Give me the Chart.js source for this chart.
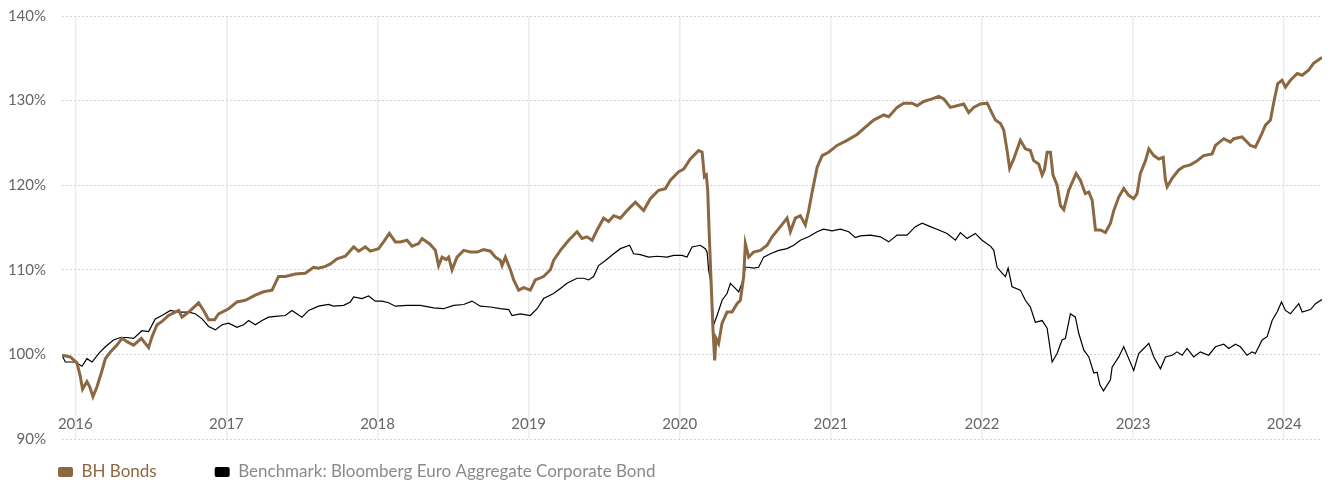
<!DOCTYPE html>
<html>
<head>
<meta charset="utf-8">
<script src="https://cdn.jsdelivr.net/npm/chart.js@4.4.1/dist/chart.umd.min.js"></script>
<style>
    html, body { margin: 0; padding: 0; background: #fff; }
    #wrap { width: 1332px; height: 485px; }
</style>
</head>
<body>
<div id="wrap"><canvas id="perfChart"></canvas></div>
<script>
// Decimal years / index values (start = 100)
const bhDates = [
    2015.912, 2015.967, 2016.011, 2016.033, 2016.048, 2016.077, 2016.095, 2016.117, 2016.144, 2016.177,
    2016.199, 2016.232, 2016.276, 2016.309, 2016.342, 2016.386, 2016.437, 2016.463, 2016.485, 2016.508,
    2016.541, 2016.574, 2016.617, 2016.684, 2016.706, 2016.750, 2016.816, 2016.849, 2016.882, 2016.922,
    2016.948, 2017.015, 2017.070, 2017.125, 2017.191, 2017.246, 2017.302, 2017.345, 2017.390, 2017.456,
    2017.522, 2017.577, 2017.610, 2017.655, 2017.688, 2017.732, 2017.787, 2017.842, 2017.875, 2017.919,
    2017.952, 2018.007, 2018.040, 2018.078, 2018.118, 2018.151, 2018.195, 2018.228, 2018.272, 2018.295,
    2018.349, 2018.383, 2018.404, 2018.427, 2018.455, 2018.471, 2018.493, 2018.526, 2018.570, 2018.614,
    2018.659, 2018.702, 2018.747, 2018.780, 2018.813, 2018.824, 2018.846, 2018.879, 2018.901, 2018.934,
    2018.967, 2019.011, 2019.044, 2019.099, 2019.144, 2019.165, 2019.210, 2019.265, 2019.320, 2019.353,
    2019.386, 2019.420, 2019.453, 2019.496, 2019.529, 2019.563, 2019.607, 2019.651, 2019.706, 2019.761,
    2019.805, 2019.860, 2019.905, 2019.938, 2019.993, 2020.026, 2020.070, 2020.103, 2020.125, 2020.148,
    2020.163, 2020.176, 2020.185, 2020.194, 2020.207, 2020.220, 2020.231, 2020.240, 2020.257, 2020.280,
    2020.313, 2020.346, 2020.379, 2020.401, 2020.423, 2020.434, 2020.456, 2020.489, 2020.533, 2020.578,
    2020.611, 2020.666, 2020.710, 2020.732, 2020.765, 2020.798, 2020.831, 2020.853, 2020.876, 2020.909,
    2020.942, 2020.985, 2021.041, 2021.107, 2021.173, 2021.217, 2021.283, 2021.350, 2021.383, 2021.438,
    2021.482, 2021.537, 2021.570, 2021.614, 2021.670, 2021.714, 2021.747, 2021.791, 2021.835, 2021.879,
    2021.912, 2021.945, 2021.989, 2022.034, 2022.067, 2022.089, 2022.122, 2022.144, 2022.166, 2022.183,
    2022.210, 2022.254, 2022.287, 2022.320, 2022.342, 2022.375, 2022.398, 2022.413, 2022.431, 2022.453,
    2022.470, 2022.497, 2022.519, 2022.541, 2022.574, 2022.623, 2022.651, 2022.684, 2022.707, 2022.729,
    2022.751, 2022.784, 2022.817, 2022.850, 2022.872, 2022.905, 2022.938, 2022.971, 2023.004, 2023.026,
    2023.048, 2023.082, 2023.104, 2023.137, 2023.170, 2023.199, 2023.214, 2023.225, 2023.258, 2023.302,
    2023.335, 2023.379, 2023.424, 2023.467, 2023.523, 2023.545, 2023.600, 2023.644, 2023.666, 2023.721,
    2023.754, 2023.776, 2023.809, 2023.842, 2023.876, 2023.909, 2023.931, 2023.957, 2023.986, 2024.008,
    2024.041, 2024.086, 2024.119, 2024.161, 2024.194, 2024.250,
];
const bhValues = [
    99.9, 99.7, 99.0, 97.4, 95.9, 96.8, 96.2, 95.0, 96.2, 98.1,
    99.5, 100.3, 101.1, 101.9, 101.5, 101.1, 101.9, 101.3, 100.8, 102.1,
    103.5, 103.9, 104.6, 105.2, 104.4, 105.0, 106.1, 105.2, 104.1, 104.1,
    104.8, 105.4, 106.2, 106.4, 107.0, 107.4, 107.6, 109.2, 109.2, 109.5,
    109.6, 110.3, 110.2, 110.4, 110.7, 111.3, 111.6, 112.7, 112.2, 112.7,
    112.2, 112.5, 113.3, 114.3, 113.3, 113.3, 113.5, 112.8, 113.1, 113.7,
    113.0, 112.3, 110.5, 111.5, 111.2, 111.5, 110.0, 111.5, 112.3, 112.1,
    112.1, 112.4, 112.2, 111.5, 111.1, 110.5, 111.5, 110.0, 108.8, 107.6,
    107.9, 107.6, 108.8, 109.2, 110.0, 111.1, 112.3, 113.5, 114.5, 113.7,
    113.9, 113.5, 114.7, 116.1, 115.7, 116.4, 116.1, 117.0, 118.0, 117.0,
    118.4, 119.4, 119.6, 120.6, 121.6, 121.9, 123.1, 123.7, 124.1, 123.9,
    121.0, 121.2, 119.4, 114.7, 108.8, 102.9, 99.3, 101.9, 101.3, 103.7,
    105.0, 105.0, 106.0, 106.4, 109.2, 113.1, 111.5, 112.1, 112.3, 112.9,
    113.9, 115.1, 116.1, 114.5, 116.1, 116.4, 115.3, 117.0, 119.2, 122.1,
    123.5, 123.9, 124.7, 125.3, 126.0, 126.7, 127.7, 128.3, 128.1, 129.2,
    129.7, 129.7, 129.4, 129.9, 130.2, 130.5, 130.2, 129.2, 129.4, 129.6,
    128.6, 129.2, 129.6, 129.7, 128.5, 127.7, 127.3, 126.5, 124.1, 122.0,
    123.1, 125.3, 124.3, 124.1, 122.9, 122.5, 121.2, 121.8, 123.9, 123.9,
    121.2, 120.0, 117.6, 117.1, 119.4, 121.4, 120.6, 119.0, 119.2, 118.2,
    114.7, 114.7, 114.4, 115.5, 117.0, 118.6, 119.6, 118.8, 118.4, 119.0,
    121.4, 122.9, 124.3, 123.5, 123.1, 123.3, 120.6, 119.8, 120.8, 121.8,
    122.2, 122.4, 122.9, 123.5, 123.7, 124.7, 125.5, 125.1, 125.5, 125.7,
    125.1, 124.7, 124.5, 125.7, 127.1, 127.7, 129.8, 132.0, 132.4, 131.6,
    132.4, 133.2, 133.0, 133.6, 134.4, 135.1,
];

const benchDates = [
    2015.912, 2015.934, 2015.967, 2016.000, 2016.044, 2016.077, 2016.111, 2016.154, 2016.199, 2016.253,
    2016.298, 2016.342, 2016.386, 2016.441, 2016.485, 2016.529, 2016.574, 2016.629, 2016.684, 2016.750,
    2016.794, 2016.839, 2016.882, 2016.927, 2016.971, 2017.015, 2017.070, 2017.114, 2017.147, 2017.191,
    2017.236, 2017.279, 2017.324, 2017.390, 2017.434, 2017.500, 2017.544, 2017.610, 2017.676, 2017.709,
    2017.776, 2017.820, 2017.842, 2017.897, 2017.941, 2017.985, 2018.030, 2018.073, 2018.118, 2018.195,
    2018.283, 2018.371, 2018.437, 2018.504, 2018.570, 2018.625, 2018.680, 2018.747, 2018.813, 2018.868,
    2018.890, 2018.945, 2019.011, 2019.056, 2019.099, 2019.165, 2019.210, 2019.254, 2019.320, 2019.364,
    2019.397, 2019.430, 2019.463, 2019.508, 2019.563, 2019.607, 2019.668, 2019.695, 2019.739, 2019.794,
    2019.850, 2019.916, 2019.960, 2020.015, 2020.048, 2020.081, 2020.136, 2020.169, 2020.181, 2020.191,
    2020.203, 2020.214, 2020.224, 2020.247, 2020.280, 2020.313, 2020.335, 2020.368, 2020.390, 2020.412,
    2020.434, 2020.456, 2020.489, 2020.522, 2020.555, 2020.600, 2020.655, 2020.710, 2020.754, 2020.798,
    2020.853, 2020.909, 2020.952, 2021.008, 2021.063, 2021.118, 2021.162, 2021.195, 2021.261, 2021.328,
    2021.383, 2021.438, 2021.504, 2021.559, 2021.604, 2021.658, 2021.714, 2021.769, 2021.824, 2021.857,
    2021.901, 2021.956, 2022.000, 2022.056, 2022.078, 2022.100, 2022.133, 2022.155, 2022.173, 2022.199,
    2022.254, 2022.287, 2022.320, 2022.353, 2022.398, 2022.431, 2022.464, 2022.497, 2022.530, 2022.552,
    2022.585, 2022.618, 2022.640, 2022.674, 2022.707, 2022.740, 2022.762, 2022.780, 2022.804, 2022.850,
    2022.861, 2022.905, 2022.938, 2022.971, 2023.004, 2023.037, 2023.071, 2023.104, 2023.137, 2023.181,
    2023.214, 2023.258, 2023.291, 2023.324, 2023.357, 2023.401, 2023.445, 2023.500, 2023.545, 2023.600,
    2023.633, 2023.677, 2023.710, 2023.754, 2023.787, 2023.809, 2023.854, 2023.887, 2023.920, 2023.953,
    2023.982, 2024.008, 2024.041, 2024.096, 2024.119, 2024.174, 2024.207, 2024.250,
];
const benchValues = [
    99.9, 99.1, 99.1, 99.1, 98.6, 99.5, 99.1, 100.1, 100.9, 101.7,
    102.0, 102.0, 101.9, 102.8, 102.7, 104.2, 104.6, 105.2, 105.0, 105.0,
    104.8, 104.2, 103.3, 102.9, 103.5, 103.7, 103.2, 103.5, 104.0, 103.5,
    104.0, 104.4, 104.5, 104.6, 105.2, 104.4, 105.2, 105.7, 105.9, 105.7,
    105.8, 106.2, 106.8, 106.6, 106.9, 106.3, 106.3, 106.1, 105.7, 105.8,
    105.8, 105.5, 105.4, 105.8, 105.9, 106.3, 105.7, 105.6, 105.4, 105.3,
    104.6, 104.8, 104.6, 105.4, 106.6, 107.2, 107.8, 108.4, 109.0, 109.0,
    108.8, 109.2, 110.5, 111.1, 111.9, 112.5, 112.9, 111.9, 111.8, 111.5,
    111.6, 111.5, 111.7, 111.7, 111.5, 112.7, 112.9, 112.5, 112.1, 110.0,
    108.8, 106.0, 103.5, 104.6, 106.4, 107.2, 108.4, 107.8, 107.4, 108.4,
    110.3, 110.3, 110.2, 110.3, 111.5, 111.9, 112.3, 112.5, 112.9, 113.5,
    113.9, 114.5, 114.8, 114.6, 114.8, 114.5, 113.8, 114.0, 114.1, 113.9,
    113.3, 114.1, 114.1, 115.1, 115.5, 115.1, 114.7, 114.3, 113.5, 114.4,
    113.7, 114.3, 113.5, 112.8, 112.3, 110.3, 109.6, 109.2, 110.2, 108.0,
    107.6, 106.4, 105.6, 103.8, 104.0, 103.1, 99.1, 100.1, 101.7, 101.9,
    104.8, 104.4, 102.5, 100.5, 99.7, 97.8, 97.9, 96.4, 95.7, 97.0,
    98.5, 99.7, 100.9, 99.5, 98.1, 100.1, 100.7, 101.3, 99.7, 98.3,
    99.7, 99.9, 100.3, 99.9, 100.7, 99.7, 100.3, 99.9, 100.9, 101.2,
    100.7, 101.2, 100.9, 99.9, 100.3, 100.1, 101.7, 102.1, 104.0, 105.0,
    106.2, 105.2, 104.8, 106.0, 105.0, 105.3, 106.0, 106.5,
];

const yTicks = [90, 100, 110, 120, 130, 140];
const seriesLabels = ['BH Bonds', 'Benchmark: Bloomberg Euro Aggregate Corporate Bond'];

const COLORS = {
    bh:        '#8b6841',
    bench:     '#000000',
    benchText: '#8a8a8a',
    tick:      '#666666',
    gridH:     '#d2d2d2',
    gridV:     '#ececec',
};

const FONT = 'Lato, "Noto Sans", sans-serif';
const LEGEND_ITEM_Y = 463.5;

const toPoints = (dates, values) => dates.map((x, i) => ({ x, y: values[i] }));

// Chart.js uses labels.padding both as item gap and as top offset; lift the legend row back up
const legendLift = {
    id: 'legendLift',
    afterLayout(chart) {
        const legend = chart.legend;
        legend.top = LEGEND_ITEM_Y - legend.options.labels.padding;
        legend.bottom = chart.height;
    },
};

function createPerformanceChart(canvasId) {
    const canvas = document.getElementById(canvasId);
    const textColors = [COLORS.bh, COLORS.benchText];

    return new Chart(canvas.getContext('2d'), {
        type: 'line',
        data: {
            datasets: [
                {
                    label: seriesLabels[0],
                    data: toPoints(bhDates, bhValues),
                    borderColor: COLORS.bh,
                    backgroundColor: COLORS.bh,
                    borderWidth: 3,
                    pointRadius: 0,
                    tension: 0,
                },
                {
                    label: seriesLabels[1],
                    data: toPoints(benchDates, benchValues),
                    borderColor: COLORS.bench,
                    backgroundColor: COLORS.bench,
                    borderWidth: 1.2,
                    pointRadius: 0,
                    tension: 0,
                },
            ],
        },
        options: {
            responsive: true,
            maintainAspectRatio: false,
            animation: false,
            layout: { padding: { top: 0, right: 10, left: 0, bottom: 0 } },
            scales: {
                x: {
                    type: 'linear',
                    min: bhDates[0],
                    max: bhDates[bhDates.length - 1],
                    afterFit: scale => { scale.height = 0; },
                    border: { display: false },
                    grid: { color: COLORS.gridV, lineWidth: 1.5, drawTicks: false },
                    ticks: {
                        stepSize: 1,
                        includeBounds: false,
                        autoSkip: false,
                        maxRotation: 0,
                        mirror: true,
                        padding: 6,
                        color: COLORS.tick,
                        font: { family: FONT, size: 15 },
                        callback: value => String(value),
                    },
                },
                y: {
                    min: yTicks[0],
                    max: yTicks[yTicks.length - 1],
                    afterFit: scale => {
                        scale.width = 62;
                        scale.paddingTop = 16;
                        scale.paddingBottom = 0;
                    },
                    afterBuildTicks: scale => { scale.ticks = yTicks.map(value => ({ value })); },
                    border: { display: false, dash: [2, 2] },
                    grid: { color: COLORS.gridH, lineWidth: 1, drawTicks: false },
                    ticks: {
                        padding: 16,
                        color: COLORS.tick,
                        font: { family: FONT, size: 15 },
                        callback: value => value + '%',
                    },
                },
            },
            plugins: {
                tooltip: { enabled: false },
                legend: {
                    position: 'bottom',
                    align: 'start',
                    maxHeight: 46,
                    labels: {
                        boxWidth: 15,
                        boxHeight: 10,
                        useBorderRadius: true,
                        borderRadius: 2,
                        padding: 58,
                        font: { family: FONT, size: 17 },
                        generateLabels: chart =>
                            Chart.defaults.plugins.legend.labels.generateLabels(chart).map((item, i) => ({
                                ...item,
                                lineWidth: 0,
                                fontColor: textColors[i],
                            })),
                    },
                },
            },
        },
        plugins: [legendLift],
    });
}

document.addEventListener('DOMContentLoaded', () => createPerformanceChart('perfChart'));
</script>
</body>
</html>
